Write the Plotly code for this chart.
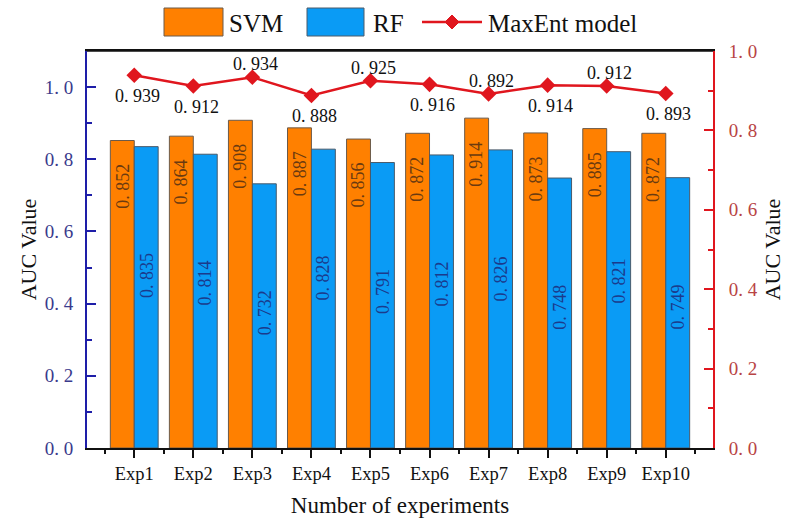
import plotly.graph_objects as go

categories = ["Exp1", "Exp2", "Exp3", "Exp4", "Exp5", "Exp6", "Exp7", "Exp8", "Exp9", "Exp10"]
svm = [0.852, 0.864, 0.908, 0.887, 0.856, 0.872, 0.914, 0.873, 0.885, 0.872]
rf = [0.835, 0.814, 0.732, 0.828, 0.791, 0.812, 0.826, 0.748, 0.821, 0.749]
maxent = [0.939, 0.912, 0.934, 0.888, 0.925, 0.916, 0.892, 0.914, 0.912, 0.893]
maxent_label_side = ["below", "below", "above", "below", "above", "below", "above", "below", "above", "below"]
left_ticks = [0.0, 0.2, 0.4, 0.6, 0.8, 1.0]
right_ticks = [0.0, 0.2, 0.4, 0.6, 0.8, 1.0]

FONT = "Liberation Serif"
ORANGE = "#FF8000"
BLUE = "#0A9BF5"
RED = "#E0161E"
NAVY = "#1E1EA8"

def fmt(v, d=3):
    return f"{v:.{d}f}".replace(".", ". ")

xs = list(range(len(categories)))

fig = go.Figure()
fig.add_trace(go.Bar(x=xs, y=svm, name="SVM", marker=dict(color=ORANGE, line=dict(color="#6b5a4a", width=1)), yaxis="y", showlegend=False))
fig.add_trace(go.Bar(x=xs, y=rf, name="RF", marker=dict(color=BLUE, line=dict(color="#4a5a6a", width=1)), yaxis="y", showlegend=False))
fig.add_trace(go.Scatter(x=xs, y=maxent, name="MaxEnt model", mode="lines+markers", yaxis="y2",
                         line=dict(color=RED, width=2.5), marker=dict(symbol="diamond", size=12, color=RED), showlegend=False))

ann = []
for i, v in enumerate(svm):
    ann.append(dict(x=xs[i], y=v, xref="x", yref="y", text=fmt(v), textangle=-90, showarrow=False,
                    xshift=-12, yshift=-46, font=dict(family=FONT, size=18, color="#6a3a10")))
for i, v in enumerate(rf):
    ann.append(dict(x=xs[i], y=v, xref="x", yref="y", text=fmt(v), textangle=-90, showarrow=False,
                    xshift=12, yshift=-129, font=dict(family=FONT, size=18, color="#1b3a8c")))
for i, v in enumerate(maxent):
    ys = -21 if maxent_label_side[i] == "below" else 13
    ann.append(dict(x=xs[i], y=v, xref="x", yref="y2", text=fmt(v), showarrow=False,
                    xshift=3, yshift=ys, font=dict(family=FONT, size=18, color="#111111")))

# custom legend (pixel helpers relative to plot area 87..713 x 51..448)
L, R, T, B = 87, 713, 51, 448
def px(x):
    return (x - L) / (R - L)
def py(y):
    return (B - y) / (B - T)

shapes = [
    dict(type="line", xref="paper", yref="paper", x0=0, x1=1, y0=1, y1=1, line=dict(color="#111111", width=1.5)),
    dict(type="rect", xref="paper", yref="paper", x0=px(164), x1=px(223), y0=py(36), y1=py(8),
         fillcolor=ORANGE, line=dict(color="#6b5a4a", width=1)),
    dict(type="rect", xref="paper", yref="paper", x0=px(307), x1=px(364), y0=py(36), y1=py(8),
         fillcolor=BLUE, line=dict(color="#4a5a6a", width=1)),
    dict(type="line", xref="paper", yref="paper", x0=px(422), x1=px(482), y0=py(22), y1=py(22),
         line=dict(color=RED, width=2.5)),
    dict(type="path", xref="paper", yref="paper",
         path=f"M {px(452)} {py(15)} L {px(459)} {py(22)} L {px(452)} {py(29)} L {px(445)} {py(22)} Z",
         fillcolor=RED, line=dict(color=RED, width=1)),
]
for txt, x in [("SVM", 227), ("RF", 371), ("MaxEnt model", 486)]:
    ann.append(dict(x=px(x), y=py(23), xref="paper", yref="paper", text=txt, showarrow=False,
                    xanchor="left", yanchor="middle", font=dict(family=FONT, size=25, color="#111111")))

fig.update_layout(
    width=785, height=518,
    margin=dict(l=L, r=785 - R, t=T, b=518 - B),
    paper_bgcolor="white", plot_bgcolor="white",
    barmode="group", bargap=0.19, bargroupgap=0,
    font=dict(family=FONT, color="#111111"),
    annotations=ann, shapes=shapes,
    xaxis=dict(range=[-0.8, 9.8], tickvals=xs, ticktext=categories, showgrid=False, zeroline=False, automargin=False,
               showline=True, linecolor="#111111", linewidth=1.5, mirror=True,
               ticks="outside", ticklen=8, tickwidth=1.5, tickcolor="#111111",
               minor=dict(tick0=0.5, dtick=1, ticks="outside", ticklen=4, tickwidth=1.5, tickcolor="#111111"),
               tickfont=dict(family=FONT, size=18.5, color="#111111"),
               title=dict(text="Number of experiments", font=dict(family=FONT, size=23, color="#111111"), standoff=18)),
    yaxis=dict(range=[0, 1.1], tickvals=left_ticks, ticktext=[fmt(t, 1) for t in left_ticks], showgrid=False, zeroline=False,
               automargin=False, showline=True, linecolor=NAVY, linewidth=2,
               ticks="inside", ticklen=9, tickwidth=2, tickcolor=NAVY,
               minor=dict(tick0=0.1, dtick=0.2, ticks="inside", ticklen=5, tickwidth=2, tickcolor=NAVY),
               tickfont=dict(family=FONT, size=19, color="#3a3a8c"), ticklabelstandoff=8,
               title=dict(text="AUC Value", font=dict(family=FONT, size=22, color="#111111"), standoff=2)),
    yaxis2=dict(range=[0, 1.0], overlaying="y", side="right", tickvals=right_ticks, ticktext=[fmt(t, 1) for t in right_ticks],
                automargin=False, showgrid=False, zeroline=False, showline=True, linecolor=RED, linewidth=2,
                ticks="inside", ticklen=9, tickwidth=2, tickcolor=RED,
                minor=dict(tick0=0.1, dtick=0.2, ticks="inside", ticklen=5, tickwidth=2, tickcolor=RED),
                tickfont=dict(family=FONT, size=19, color="#b84444"), ticklabelstandoff=10,
                title=dict(text="AUC Value", font=dict(family=FONT, size=22, color="#111111"), standoff=18)),
)

fig.write_html("out.html")
